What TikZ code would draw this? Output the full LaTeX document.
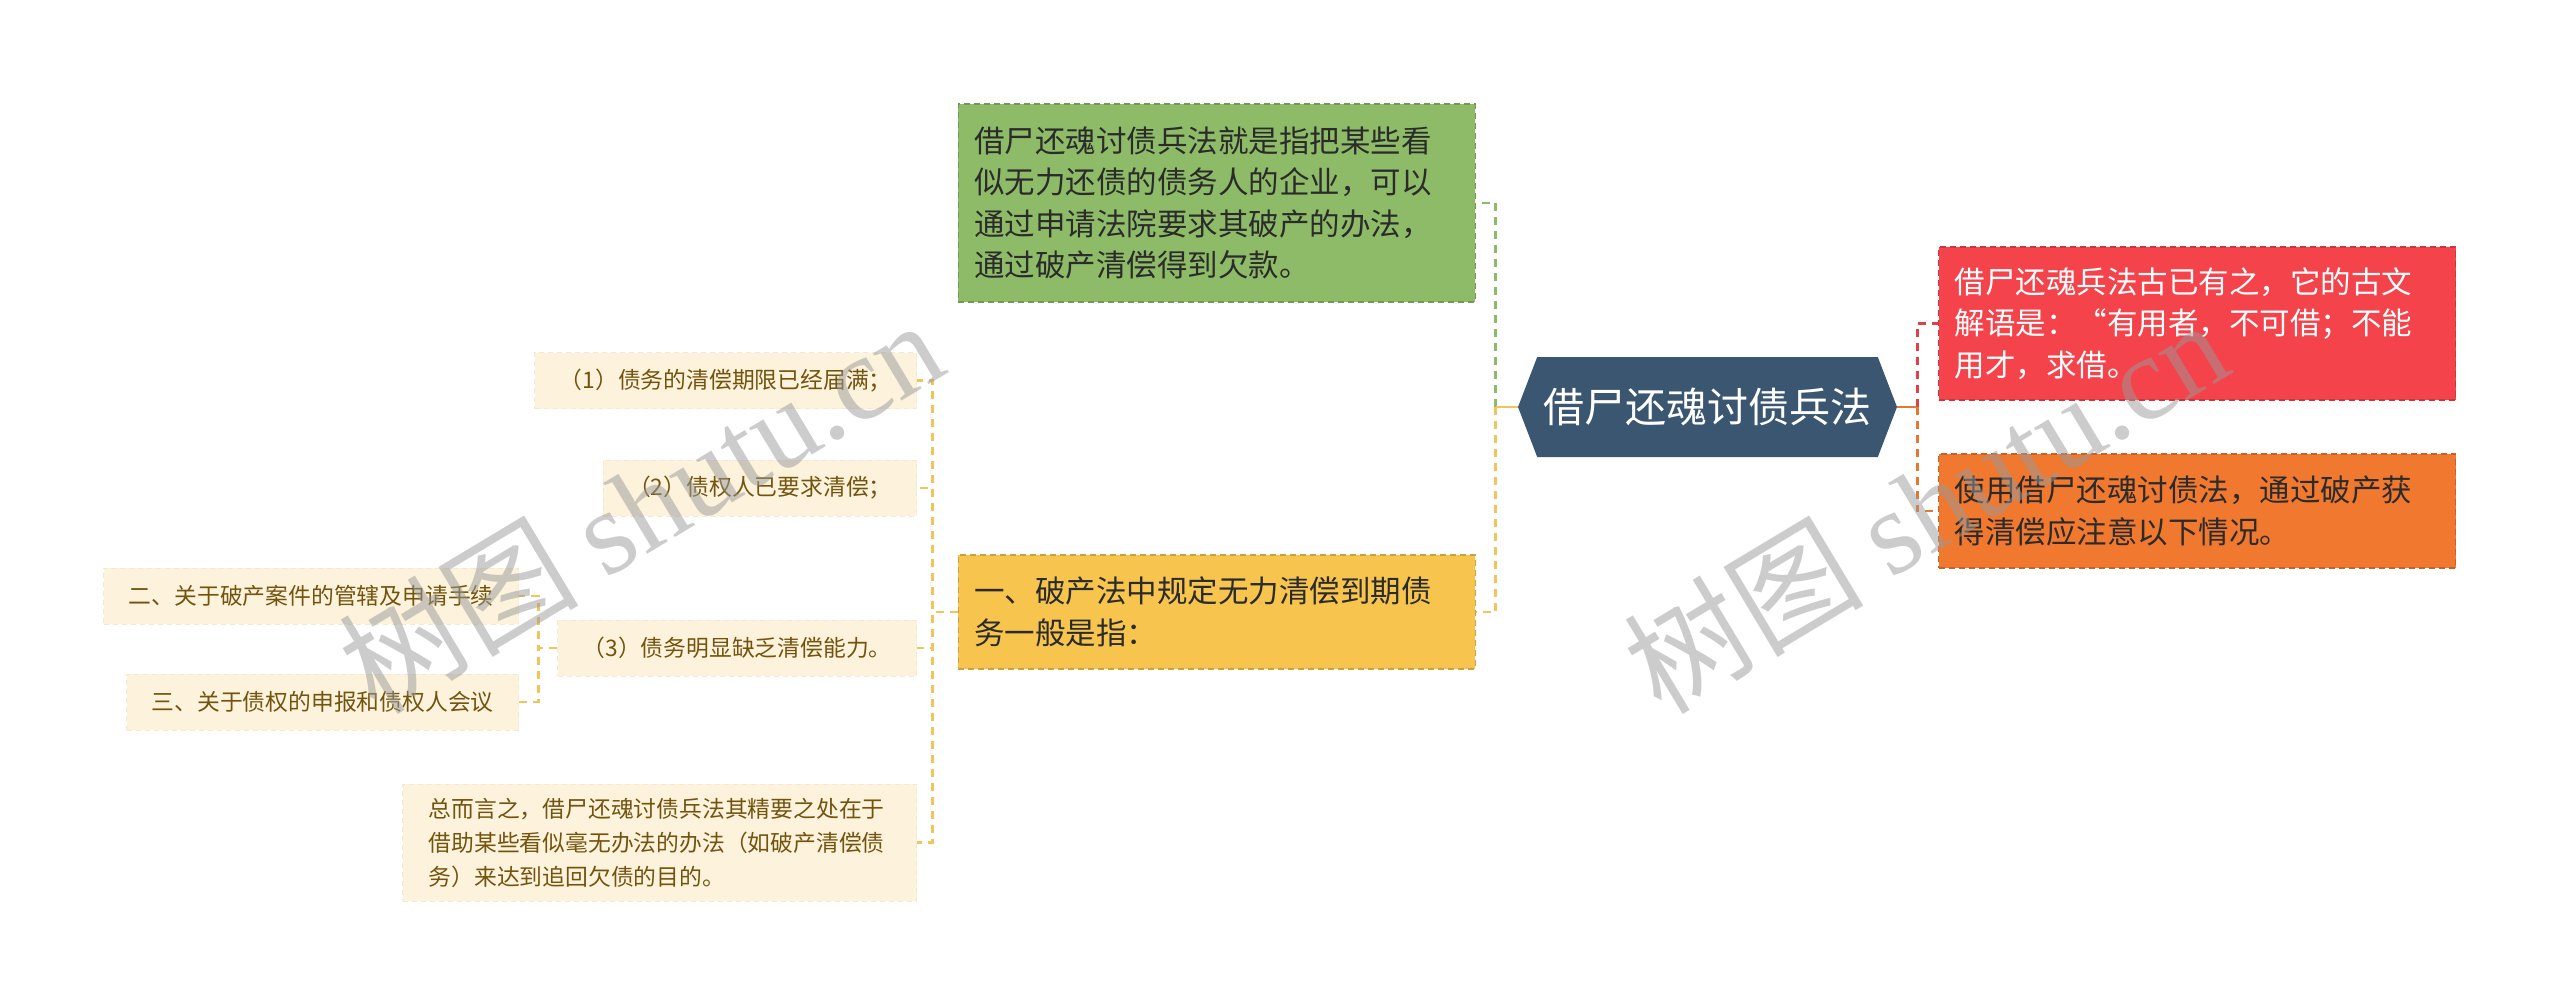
\documentclass[tikz,border=0pt]{standalone}
\usepackage{fontspec}
\setmainfont{Noto Sans CJK SC}
\newfontfamily\wmlatin{Liberation Serif}
\usetikzlibrary{shapes.symbols}

\definecolor{rootblue}{HTML}{3B5671}
\definecolor{topicgreen}{HTML}{8DBB67}
\definecolor{topicyellow}{HTML}{F7C54E}
\definecolor{topicred}{HTML}{F5434B}
\definecolor{topicorange}{HTML}{F1782F}
\definecolor{leafcream}{HTML}{FDF3DC}
\definecolor{leafbrown}{HTML}{73540F}
\definecolor{darktext}{HTML}{2B2B2B}
\definecolor{linkgreen}{HTML}{8DBB67}
\definecolor{linkyellow}{HTML}{F2C45A}
\definecolor{linkred}{HTML}{E04048}
\definecolor{linkorange}{HTML}{E3782F}

\begin{document}
\begin{tikzpicture}[x=1pt,y=-1pt,
  root node/.style={shape=signal,signal to=west and east,signal pointer angle=138,
    fill=rootblue,text=white,inner sep=0pt,minimum width=379pt,minimum height=100pt,
    font=\fontsize{41}{48}\selectfont},
  topic node/.style={rectangle,fill=#1,draw=#1!82!black,dash pattern=on 6pt off 4pt,
    line width=1.3pt,text width=485pt,inner xsep=16pt,inner ysep=0pt,align=left,
    font=\fontsize{30.5}{41.5}\selectfont},
  leaf node/.style={rectangle,fill=leafcream,draw=leafcream!96!black,dash pattern=on 5pt off 4pt,
    line width=0.8pt,text=leafbrown,inner xsep=25pt,inner ysep=0pt,minimum height=56pt,
    font=\fontsize{22.8}{34}\selectfont},
  link/.style={draw=#1,line width=2.8pt,dash pattern=on 8pt off 6pt},
  stub/.style={draw=#1,line width=2.8pt},
  watermark/.style={rotate=31,text=black!40,text opacity=0.5,font=\fontsize{120}{120}\selectfont}]

  \useasboundingbox (0,0) rectangle (2560,1005);

  \node[root node] (root) at (1707.5,407) {借尸还魂讨债兵法};

  \node[topic node=topicgreen,text=darktext,minimum height=198pt,anchor=east] (def) at (1476,203)
    {借尸还魂讨债兵法就是指把某些看\\似无力还债的债务人的企业，可以\\通过申请法院要求其破产的办法，\\通过破产清偿得到欠款。};
  \node[topic node=topicyellow,text=darktext,minimum height=114pt,anchor=east] (law) at (1476,612)
    {一、破产法中规定无力清偿到期债\\务一般是指：};
  \node[topic node=topicred,text=white,minimum height=153pt,anchor=west] (ancient) at (1938,323.5)
    {借尸还魂兵法古已有之，它的古文\\解语是：“有用者，不可借；不能\\用才，求借。};
  \node[topic node=topicorange,text=darktext,minimum height=114pt,anchor=west] (notice) at (1938,511)
    {使用借尸还魂讨债法，通过破产获\\得清偿应注意以下情况。};

  \node[leaf node,anchor=east] (c1) at (917,380.5) {（1）债务的清偿期限已经届满；};
  \node[leaf node,anchor=east] (c2) at (917,488) {（2）债权人已要求清偿；};
  \node[leaf node,anchor=east] (c3) at (917,648) {（3）债务明显缺乏清偿能力。};
  \node[leaf node,anchor=east,text width=462pt,inner xsep=26pt,minimum height=117pt,align=left] (sum) at (917,842.5)
    {总而言之，借尸还魂讨债兵法其精要之处在于\\借助某些看似毫无办法的办法（如破产清偿债\\务）来达到追回欠债的目的。};
  \node[leaf node,anchor=east] (c31) at (519,596) {二、关于破产案件的管辖及申请手续};
  \node[leaf node,anchor=east] (c32) at (519,702) {三、关于债权的申报和债权人会议};

  % root to topics
  \draw[link=linkgreen] (root.west) ++(-22,0) |- (def.east);
  \draw[link=linkyellow] (root.west) ++(-22,0) |- (law.east);
  \draw[stub=linkyellow] (root.west) -- ++(-22,0);
  \draw[link=linkred] (root.east) ++(20,0) |- (ancient.west);
  \draw[link=linkorange] (root.east) ++(20,0) |- (notice.west);
  \draw[stub=linkorange] (root.east) -- ++(20,0);

  % topic to leaves
  \foreach \leaf in {c1,c2,c3,sum}
    \draw[link=linkyellow] (law.west) -- ++(-25,0) |- (\leaf.east);
  \foreach \leaf in {c31,c32}
    \draw[link=linkyellow] (c3.west) -- ++(-19,0) |- (\leaf.east);

  \node[watermark] (wm1) at (640,505) {树图 {\wmlatin shutu.cn}};
  \node[watermark] (wm2) at (1925,505) {树图 {\wmlatin shutu.cn}};
\end{tikzpicture}
\end{document}
